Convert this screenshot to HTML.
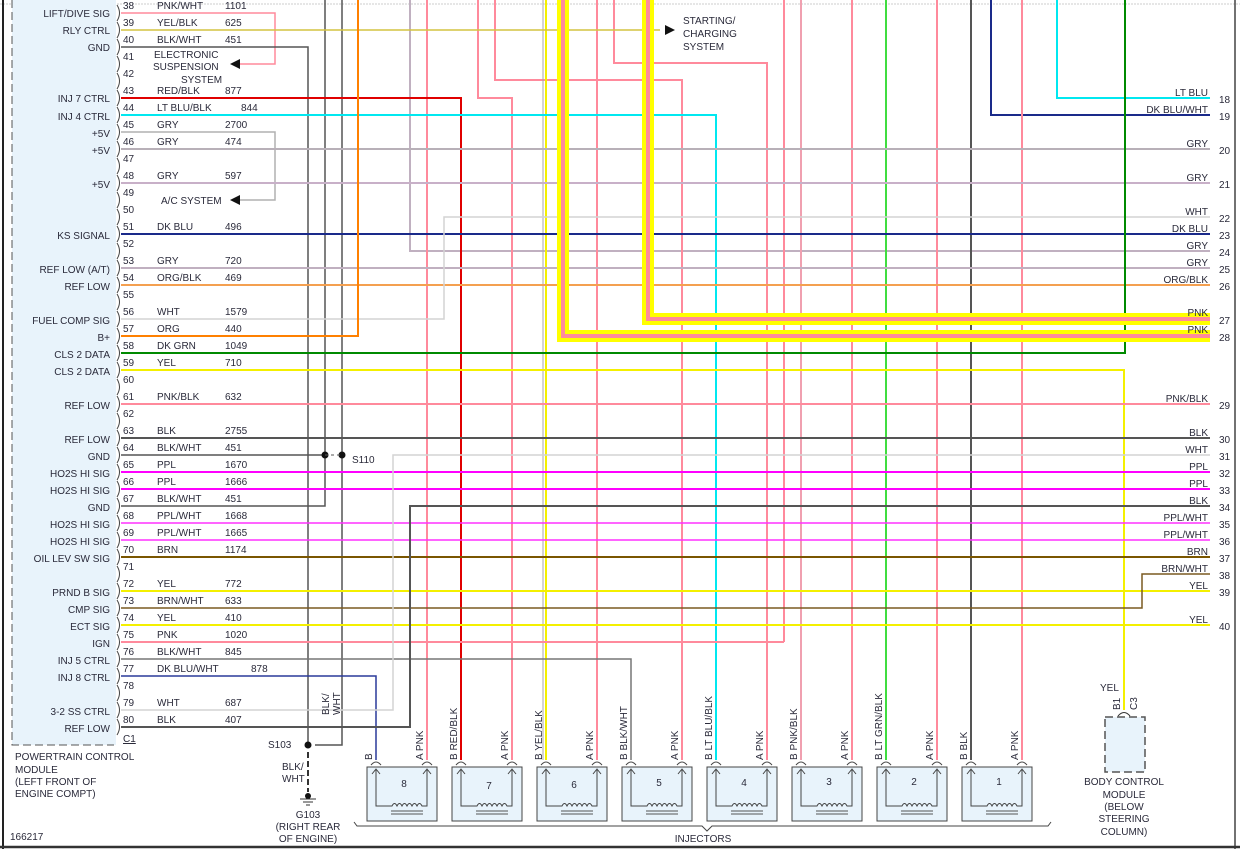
<!DOCTYPE html>
<html><head><meta charset="utf-8"><style>
html,body{margin:0;padding:0;background:#fff}
svg{display:block}
text{font-family:"Liberation Sans",sans-serif;font-size:10px;fill:#2a2a3a}
.l{text-anchor:end}
.m{text-anchor:middle}
</style></head><body>
<svg width="1240" height="849" viewBox="0 0 1240 849" xmlns="http://www.w3.org/2000/svg">
<rect width="1240" height="849" fill="#fff"/>
<!-- frame -->
<line x1="0" y1="4" x2="1240" y2="4" stroke="#ccc" stroke-dasharray="2,1"/>
<line x1="3" y1="0" x2="3" y2="849" stroke="#222" stroke-width="2"/>
<line x1="1235" y1="0" x2="1235" y2="849" stroke="#444" stroke-width="1.5"/>
<line x1="0" y1="847" x2="1240" y2="847" stroke="#333" stroke-width="2.5"/>
<!-- PCM box -->
<rect x="12" y="0" width="104" height="745" fill="#e8f3fb"/>
<path d="M12,0 V745 H114" fill="none" stroke="#555" stroke-dasharray="8,4"/>
<g fill="none" stroke="#444" stroke-width="1">
<path d="M117,5 q5,8 0,16"/><path d="M117,22 q5,8 0,16"/><path d="M117,39 q5,8 0,16"/><path d="M117,56 q5,8 0,16"/><path d="M117,73 q5,8 0,16"/><path d="M117,90 q5,8 0,16"/><path d="M117,107 q5,8 0,16"/><path d="M117,124 q5,8 0,16"/><path d="M117,141 q5,8 0,16"/><path d="M117,158 q5,8 0,16"/><path d="M117,175 q5,8 0,16"/><path d="M117,192 q5,8 0,16"/><path d="M117,209 q5,8 0,16"/><path d="M117,226 q5,8 0,16"/><path d="M117,243 q5,8 0,16"/><path d="M117,260 q5,8 0,16"/><path d="M117,277 q5,8 0,16"/><path d="M117,294 q5,8 0,16"/><path d="M117,311 q5,8 0,16"/><path d="M117,328 q5,8 0,16"/><path d="M117,345 q5,8 0,16"/><path d="M117,362 q5,8 0,16"/><path d="M117,379 q5,8 0,16"/><path d="M117,396 q5,8 0,16"/><path d="M117,413 q5,8 0,16"/><path d="M117,430 q5,8 0,16"/><path d="M117,447 q5,8 0,16"/><path d="M117,464 q5,8 0,16"/><path d="M117,481 q5,8 0,16"/><path d="M117,498 q5,8 0,16"/><path d="M117,515 q5,8 0,16"/><path d="M117,532 q5,8 0,16"/><path d="M117,549 q5,8 0,16"/><path d="M117,566 q5,8 0,16"/><path d="M117,583 q5,8 0,16"/><path d="M117,600 q5,8 0,16"/><path d="M117,617 q5,8 0,16"/><path d="M117,634 q5,8 0,16"/><path d="M117,651 q5,8 0,16"/><path d="M117,668 q5,8 0,16"/><path d="M117,685 q5,8 0,16"/><path d="M117,702 q5,8 0,16"/><path d="M117,719 q5,8 0,16"/>
</g>

<!-- vertical wires from top -->
<g fill="none" stroke-width="1.5">
<path d="M325,0 V506 H121" stroke="#555"/>
<path d="M342,0 V745 H315" stroke="#555"/>
<path d="M410,0 V251 H1210" stroke="#c0b0c0" stroke-width="2"/>
<path d="M427,0 V760" stroke="#ff8a9c" stroke-width="2"/>
<path d="M478,0 V98 H512 V760" stroke="#ff8a9c" stroke-width="2"/>
<path d="M495,0 V80 H682 V760" stroke="#ff8a9c" stroke-width="2"/>
<path d="M543,0 V760" stroke="#aaa" stroke-width="1"/>
<path d="M546,0 V760" stroke="#f4f000" stroke-width="2"/>
<path d="M597,0 V760" stroke="#ff8a9c" stroke-width="2"/>
<path d="M614,0 V63 H767 V760" stroke="#ff8a9c" stroke-width="2"/>
<path d="M784,0 V642" stroke="#ff8a9c" stroke-width="2"/>
<path d="M801,0 V760" stroke="#f0a0b0" stroke-width="2"/>
<path d="M852,0 V760" stroke="#ff8a9c" stroke-width="2"/>
<path d="M886,0 V760" stroke="#40dd40" stroke-width="2"/>
<path d="M937,0 V760" stroke="#ff8a9c" stroke-width="2"/>
<path d="M971,0 V760" stroke="#555" stroke-width="2"/>
<path d="M991,0 V115 H1210" stroke="#1a2a8a" stroke-width="2"/>
<path d="M1022,0 V760" stroke="#ff8a9c" stroke-width="2"/>
<path d="M1057,0 V98 H1210" stroke="#00e8f0" stroke-width="2"/>
</g>

<!-- horizontal PCM wires -->
<g fill="none" stroke-width="1.5">
<path d="M121,13 H275 V64 H240" stroke="#ff8a9c"/>
<path d="M121,30 H660" stroke="#d4c440"/>
<path d="M121,47 H308 V745" stroke="#555"/>
<path d="M121,98 H461 V760" stroke="#e00000" stroke-width="2"/>
<path d="M121,115 H716 V760" stroke="#00e8f0" stroke-width="2"/>
<path d="M121,132 H275 V200 H240" stroke="#b0b0b0"/>
<path d="M121,149 H1210" stroke="#b8b0b8" stroke-width="2"/>
<path d="M121,183 H1210" stroke="#c8b0c8" stroke-width="2"/>
<path d="M121,234 H1210" stroke="#1a2a8a" stroke-width="2"/>
<path d="M121,268 H1210" stroke="#c0b0c0" stroke-width="2"/>
<path d="M121,285 H1210" stroke="#f4a050" stroke-width="2"/>
<path d="M121,319 H444 V217 H1210" stroke="#d4d4d4"/>
<path d="M121,336 H358 V0" stroke="#ff8000" stroke-width="2"/>
<path d="M121,353 H1125 V0" stroke="#008a00" stroke-width="2"/>
<path d="M121,370 H1124 V710" stroke="#f4f000" stroke-width="2"/>
<path d="M121,404 H1210" stroke="#ff8a9c" stroke-width="2"/>
<path d="M121,438 H1210" stroke="#555" stroke-width="2"/>
<path d="M121,455 H325" stroke="#555"/>
<path d="M121,472 H1210" stroke="#ff00ff" stroke-width="2"/>
<path d="M121,489 H1210" stroke="#ff00ff" stroke-width="2"/>
<path d="M121,523 H1210" stroke="#ff30ff" stroke-width="1.5"/>
<path d="M121,540 H1210" stroke="#ff30ff" stroke-width="1.5"/>
<path d="M121,557 H1210" stroke="#7a5600" stroke-width="2"/>
<path d="M121,591 H1210" stroke="#f4f000" stroke-width="2"/>
<path d="M121,608 H1142 V574 H1210" stroke="#7a5a20" stroke-width="1.5"/>
<path d="M121,625 H1210" stroke="#f4f000" stroke-width="2"/>
<path d="M121,642 H784" stroke="#ff8a9c" stroke-width="2"/>
<path d="M121,659 H631 V760" stroke="#777" stroke-width="1.5"/>
<path d="M121,676 H376 V760" stroke="#2a3a9a" stroke-width="1.5"/>
<path d="M121,710 H393 V455 H1210" stroke="#d4d4d4" stroke-width="1.5"/>
<path d="M121,727 H410 V506 H1210" stroke="#555" stroke-width="2"/>
</g>

<!-- thick bundles -->
<path d="M563,0 V336 H1210" fill="none" stroke="#ffff00" stroke-width="12"/>
<path d="M563,0 V336 H1210" fill="none" stroke="#ff8a9c" stroke-width="4"/>
<path d="M648,0 V319 H1210" fill="none" stroke="#ffff00" stroke-width="12"/>
<path d="M648,0 V319 H1210" fill="none" stroke="#ff8a9c" stroke-width="4"/>

<!-- arrows -->
<polygon points="230,64 240,59 240,69" fill="#111"/>
<polygon points="230,200 240,195 240,205" fill="#111"/>
<polygon points="675,30 665,25 665,35" fill="#111"/>

<!-- splices -->
<circle cx="325" cy="455" r="3.5" fill="#111"/>
<circle cx="342" cy="455" r="3.5" fill="#111"/>
<line x1="325" y1="455" x2="342" y2="455" stroke="#555" stroke-dasharray="3,3"/>
<circle cx="308" cy="745" r="3.5" fill="#111"/>
<line x1="308" y1="752" x2="308" y2="792" stroke="#333" stroke-width="2" stroke-dasharray="6,3"/>
<circle cx="308" cy="796" r="3" fill="#111"/>
<line x1="300" y1="799" x2="316" y2="799" stroke="#333"/>
<line x1="303" y1="802" x2="313" y2="802" stroke="#333"/>
<line x1="306" y1="805" x2="310" y2="805" stroke="#333"/>

<!-- left pin labels -->
<g class="l">
<text class="l" x="110" y="17">LIFT/DIVE SIG</text>
<text class="l" x="110" y="34">RLY CTRL</text>
<text class="l" x="110" y="51">GND</text>
<text class="l" x="110" y="102">INJ 7 CTRL</text>
<text class="l" x="110" y="120">INJ 4 CTRL</text>
<text class="l" x="110" y="137">+5V</text>
<text class="l" x="110" y="154">+5V</text>
<text class="l" x="110" y="188">+5V</text>
<text class="l" x="110" y="239">KS SIGNAL</text>
<text class="l" x="110" y="273">REF LOW (A/T)</text>
<text class="l" x="110" y="290">REF LOW</text>
<text class="l" x="110" y="324">FUEL COMP SIG</text>
<text class="l" x="110" y="341">B+</text>
<text class="l" x="110" y="358">CLS 2 DATA</text>
<text class="l" x="110" y="375">CLS 2 DATA</text>
<text class="l" x="110" y="409">REF LOW</text>
<text class="l" x="110" y="443">REF LOW</text>
<text class="l" x="110" y="460">GND</text>
<text class="l" x="110" y="477">HO2S HI SIG</text>
<text class="l" x="110" y="494">HO2S HI SIG</text>
<text class="l" x="110" y="511">GND</text>
<text class="l" x="110" y="528">HO2S HI SIG</text>
<text class="l" x="110" y="545">HO2S HI SIG</text>
<text class="l" x="110" y="562">OIL LEV SW SIG</text>
<text class="l" x="110" y="596">PRND B SIG</text>
<text class="l" x="110" y="613">CMP SIG</text>
<text class="l" x="110" y="630">ECT SIG</text>
<text class="l" x="110" y="647">IGN</text>
<text class="l" x="110" y="664">INJ 5 CTRL</text>
<text class="l" x="110" y="681">INJ 8 CTRL</text>
<text class="l" x="110" y="715">3-2 SS CTRL</text>
<text class="l" x="110" y="732">REF LOW</text>
</g>

<!-- pin numbers & wire codes -->
<g>
<text x="123" y="9">38</text><text x="157" y="9">PNK/WHT</text><text x="225" y="9">1101</text>
<text x="123" y="26">39</text><text x="157" y="26">YEL/BLK</text><text x="225" y="26">625</text>
<text x="123" y="43">40</text><text x="157" y="43">BLK/WHT</text><text x="225" y="43">451</text>
<text x="123" y="60">41</text><text x="123" y="77">42</text>
<text x="154" y="58">ELECTRONIC</text><text x="153" y="70">SUSPENSION</text><text x="181" y="83">SYSTEM</text>
<text x="123" y="94">43</text><text x="157" y="94">RED/BLK</text><text x="225" y="94">877</text>
<text x="123" y="111">44</text><text x="157" y="111">LT BLU/BLK</text><text x="241" y="111">844</text>
<text x="123" y="128">45</text><text x="157" y="128">GRY</text><text x="225" y="128">2700</text>
<text x="123" y="145">46</text><text x="157" y="145">GRY</text><text x="225" y="145">474</text>
<text x="123" y="162">47</text>
<text x="123" y="179">48</text><text x="157" y="179">GRY</text><text x="225" y="179">597</text>
<text x="123" y="196">49</text><text x="161" y="204">A/C SYSTEM</text>
<text x="123" y="213">50</text>
<text x="123" y="230">51</text><text x="157" y="230">DK BLU</text><text x="225" y="230">496</text>
<text x="123" y="247">52</text>
<text x="123" y="264">53</text><text x="157" y="264">GRY</text><text x="225" y="264">720</text>
<text x="123" y="281">54</text><text x="157" y="281">ORG/BLK</text><text x="225" y="281">469</text>
<text x="123" y="298">55</text>
<text x="123" y="315">56</text><text x="157" y="315">WHT</text><text x="225" y="315">1579</text>
<text x="123" y="332">57</text><text x="157" y="332">ORG</text><text x="225" y="332">440</text>
<text x="123" y="349">58</text><text x="157" y="349">DK GRN</text><text x="225" y="349">1049</text>
<text x="123" y="366">59</text><text x="157" y="366">YEL</text><text x="225" y="366">710</text>
<text x="123" y="383">60</text>
<text x="123" y="400">61</text><text x="157" y="400">PNK/BLK</text><text x="225" y="400">632</text>
<text x="123" y="417">62</text>
<text x="123" y="434">63</text><text x="157" y="434">BLK</text><text x="225" y="434">2755</text>
<text x="123" y="451">64</text><text x="157" y="451">BLK/WHT</text><text x="225" y="451">451</text>
<text x="123" y="468">65</text><text x="157" y="468">PPL</text><text x="225" y="468">1670</text>
<text x="123" y="485">66</text><text x="157" y="485">PPL</text><text x="225" y="485">1666</text>
<text x="123" y="502">67</text><text x="157" y="502">BLK/WHT</text><text x="225" y="502">451</text>
<text x="123" y="519">68</text><text x="157" y="519">PPL/WHT</text><text x="225" y="519">1668</text>
<text x="123" y="536">69</text><text x="157" y="536">PPL/WHT</text><text x="225" y="536">1665</text>
<text x="123" y="553">70</text><text x="157" y="553">BRN</text><text x="225" y="553">1174</text>
<text x="123" y="570">71</text>
<text x="123" y="587">72</text><text x="157" y="587">YEL</text><text x="225" y="587">772</text>
<text x="123" y="604">73</text><text x="157" y="604">BRN/WHT</text><text x="225" y="604">633</text>
<text x="123" y="621">74</text><text x="157" y="621">YEL</text><text x="225" y="621">410</text>
<text x="123" y="638">75</text><text x="157" y="638">PNK</text><text x="225" y="638">1020</text>
<text x="123" y="655">76</text><text x="157" y="655">BLK/WHT</text><text x="225" y="655">845</text>
<text x="123" y="672">77</text><text x="157" y="672">DK BLU/WHT</text><text x="251" y="672">878</text>
<text x="123" y="689">78</text>
<text x="123" y="706">79</text><text x="157" y="706">WHT</text><text x="225" y="706">687</text>
<text x="123" y="723">80</text><text x="157" y="723">BLK</text><text x="225" y="723">407</text>
<text x="123" y="742" text-decoration="underline">C1</text>
<text x="683" y="24">STARTING/</text><text x="683" y="37">CHARGING</text><text x="683" y="50">SYSTEM</text>
<text x="352" y="463">S110</text>
<text x="268" y="748">S103</text>
<text x="282" y="770">BLK/</text><text x="282" y="782">WHT</text>
<text class="m" x="308" y="818">G103</text><text class="m" x="308" y="830">(RIGHT REAR</text><text class="m" x="308" y="842">OF ENGINE)</text>
<text x="15" y="760">POWERTRAIN CONTROL</text><text x="15" y="773">MODULE</text><text x="15" y="785">(LEFT FRONT OF</text><text x="15" y="797">ENGINE COMPT)</text>
<text x="10" y="840">166217</text>
<text transform="translate(329,715) rotate(-90)">BLK/</text>
<text transform="translate(340,715) rotate(-90)">WHT</text>
</g>

<!-- right labels -->
<g>
<text class="l" x="1208" y="96">LT BLU</text><text x="1219" y="103">18</text>
<text class="l" x="1208" y="113">DK BLU/WHT</text><text x="1219" y="120">19</text>
<text class="l" x="1208" y="147">GRY</text><text x="1219" y="154">20</text>
<text class="l" x="1208" y="181">GRY</text><text x="1219" y="188">21</text>
<text class="l" x="1208" y="215">WHT</text><text x="1219" y="222">22</text>
<text class="l" x="1208" y="232">DK BLU</text><text x="1219" y="239">23</text>
<text class="l" x="1208" y="249">GRY</text><text x="1219" y="256">24</text>
<text class="l" x="1208" y="266">GRY</text><text x="1219" y="273">25</text>
<text class="l" x="1208" y="283">ORG/BLK</text><text x="1219" y="290">26</text>
<text class="l" x="1208" y="316">PNK</text><text x="1219" y="324">27</text>
<text class="l" x="1208" y="333">PNK</text><text x="1219" y="341">28</text>
<text class="l" x="1208" y="402">PNK/BLK</text><text x="1219" y="409">29</text>
<text class="l" x="1208" y="436">BLK</text><text x="1219" y="443">30</text>
<text class="l" x="1208" y="453">WHT</text><text x="1219" y="460">31</text>
<text class="l" x="1208" y="470">PPL</text><text x="1219" y="477">32</text>
<text class="l" x="1208" y="487">PPL</text><text x="1219" y="494">33</text>
<text class="l" x="1208" y="504">BLK</text><text x="1219" y="511">34</text>
<text class="l" x="1208" y="521">PPL/WHT</text><text x="1219" y="528">35</text>
<text class="l" x="1208" y="538">PPL/WHT</text><text x="1219" y="545">36</text>
<text class="l" x="1208" y="555">BRN</text><text x="1219" y="562">37</text>
<text class="l" x="1208" y="572">BRN/WHT</text><text x="1219" y="579">38</text>
<text class="l" x="1208" y="589">YEL</text><text x="1219" y="596">39</text>
<text class="l" x="1208" y="623">YEL</text><text x="1219" y="630">40</text>
</g>

<!-- BCM -->
<rect x="1105" y="717" width="40" height="55" fill="#e8f3fb" stroke="#555" stroke-width="1.5" stroke-dasharray="8,4"/>
<path d="M1118,716 q6,-7 12,0" fill="none" stroke="#333"/>
<text x="1100" y="691">YEL</text>
<text transform="translate(1120,710) rotate(-90)">B1</text>
<text transform="translate(1137,710) rotate(-90)">C3</text>
<text class="m" x="1124" y="785">BODY CONTROL</text><text class="m" x="1124" y="798">MODULE</text><text class="m" x="1124" y="810">(BELOW</text><text class="m" x="1124" y="822">STEERING</text><text class="m" x="1124" y="835">COLUMN)</text>

<!-- injectors -->
<g id="inj">
<g transform="translate(367,0)">
<rect x="0" y="767" width="70" height="54" fill="#e8f3fb" stroke="#444"/>
<path d="M9,770 V806 H25 q2.5,-5 5,0 q2.5,-5 5,0 q2.5,-5 5,0 q2.5,-5 5,0 q2.5,-5 5,0 q2.5,-5 5,0 H60 V770" fill="none" stroke="#444"/>
<path d="M5,774 L9,769 L13,774 M56,774 L60,769 L64,774" fill="none" stroke="#444"/>
<path d="M4,765 q5,-6 10,0 M55,765 q5,-6 10,0" fill="none" stroke="#444"/>
<line x1="24" y1="811" x2="56" y2="811" stroke="#555"/><line x1="24" y1="814" x2="56" y2="814" stroke="#555"/>
</g>
</g>
<use href="#inj" x="85"/><use href="#inj" x="170"/><use href="#inj" x="255"/><use href="#inj" x="340"/><use href="#inj" x="425"/><use href="#inj" x="510"/><use href="#inj" x="595"/>
<g class="m">
<text class="m" x="404" y="787">8</text><text class="m" x="489" y="789">7</text><text class="m" x="574" y="788">6</text><text class="m" x="659" y="786">5</text><text class="m" x="744" y="786">4</text><text class="m" x="829" y="785">3</text><text class="m" x="914" y="785">2</text><text class="m" x="999" y="785">1</text>
</g>
<g>
<text transform="translate(372,760) rotate(-90)">B</text>
<text transform="translate(457,760) rotate(-90)">B  RED/BLK</text>
<text transform="translate(542,760) rotate(-90)">B  YEL/BLK</text>
<text transform="translate(627,760) rotate(-90)">B  BLK/WHT</text>
<text transform="translate(712,760) rotate(-90)">B  LT BLU/BLK</text>
<text transform="translate(797,760) rotate(-90)">B  PNK/BLK</text>
<text transform="translate(882,760) rotate(-90)">B  LT GRN/BLK</text>
<text transform="translate(967,760) rotate(-90)">B  BLK</text>
<text transform="translate(423,760) rotate(-90)">A  PNK</text>
<text transform="translate(508,760) rotate(-90)">A  PNK</text>
<text transform="translate(593,760) rotate(-90)">A  PNK</text>
<text transform="translate(678,760) rotate(-90)">A  PNK</text>
<text transform="translate(763,760) rotate(-90)">A  PNK</text>
<text transform="translate(848,760) rotate(-90)">A  PNK</text>
<text transform="translate(933,760) rotate(-90)">A  PNK</text>
<text transform="translate(1018,760) rotate(-90)">A  PNK</text>
</g>
<path d="M354,822 L357,826 H702 L707,831 L712,826 H1048 L1051,822" fill="none" stroke="#444"/>
<text class="m" x="703" y="842">INJECTORS</text>
</svg>
</body></html>
